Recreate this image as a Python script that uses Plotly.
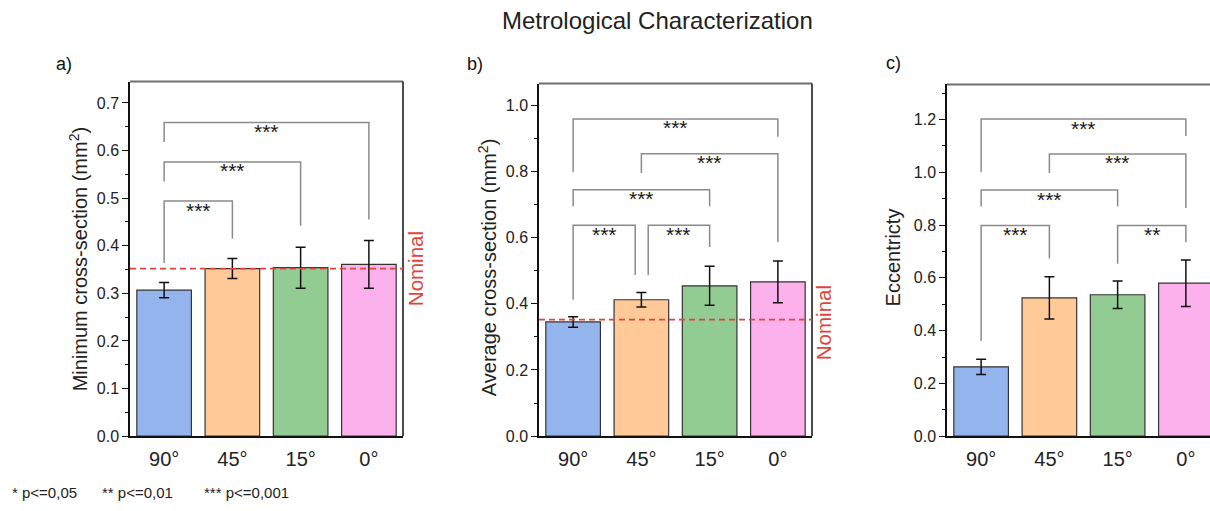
import plotly.graph_objects as go

# ---------------- data ----------------
categories = ["90°", "45°", "15°", "0°"]
bar_colors = ["#93B4EC", "#FFCA98", "#93CC93", "#FCB0EC"]

min_cs_mean = [0.307, 0.352, 0.354, 0.361]
min_cs_err = [0.016, 0.021, 0.043, 0.050]

avg_cs_mean = [0.345, 0.412, 0.454, 0.466]
avg_cs_err = [0.016, 0.022, 0.059, 0.063]

ecc_mean = [0.263, 0.524, 0.536, 0.580]
ecc_err = [0.029, 0.080, 0.052, 0.088]

nominal_value = 0.352

# brackets: (left index, right index, top, left leg end, right leg end, label, left offset, right offset)
brackets_a = [
    (0, 1, 0.494, 0.364, 0.415, "***", 0.0, 0.0),
    (0, 2, 0.576, 0.535, 0.442, "***", 0.0, 0.0),
    (0, 3, 0.659, 0.618, 0.455, "***", 0.0, 0.0),
]
brackets_b = [
    (0, 1, 0.637, 0.412, 0.487, "***", 0.0, -0.09),
    (1, 2, 0.637, 0.487, 0.571, "***", 0.10, 0.0),
    (0, 2, 0.744, 0.694, 0.694, "***", 0.0, 0.0),
    (1, 3, 0.853, 0.795, 0.586, "***", 0.0, 0.0),
    (0, 3, 0.958, 0.798, 0.904, "***", 0.0, 0.0),
]
brackets_c = [
    (0, 1, 0.799, 0.362, 0.673, "***", 0.0, 0.0),
    (2, 3, 0.799, 0.654, 0.735, "**", 0.0, 0.0),
    (0, 2, 0.933, 0.871, 0.871, "***", 0.0, 0.0),
    (1, 3, 1.070, 0.998, 0.865, "***", 0.0, 0.0),
    (0, 3, 1.202, 1.001, 1.138, "***", 0.0, 0.0),
]

FONT = "Liberation Sans, Arial, sans-serif"
W, H = 1210, 511

def px_x(p):
    return p / W

def px_y(p):
    return 1 - p / H

panels = [
    dict(mean=min_cs_mean, err=min_cs_err, br=brackets_a, xdom=[px_x(130), px_x(403)],
         ydom=[px_y(444), px_y(83)], yrange=[0, 0.745], dtick=0.1, minor=0.05,
         xrange=[-0.5, 3.5], nominal=True, right=True),
    dict(mean=avg_cs_mean, err=avg_cs_err, br=brackets_b, xdom=[px_x(539), px_x(812)],
         ydom=[px_y(444), px_y(85)], yrange=[0, 1.065], dtick=0.2, minor=0.1,
         xrange=[-0.5, 3.5], nominal=True, right=True),
    dict(mean=ecc_mean, err=ecc_err, br=brackets_c, xdom=[px_x(947), 1.0],
         ydom=[px_y(444), px_y(86)], yrange=[0, 1.333], dtick=0.2, minor=0.1,
         xrange=[-0.5, 3.5 - 10 / 68.25], nominal=False, right=False),
]

fig = go.Figure()
shapes = []
annotations = []
xs = list(range(len(categories)))

for k, p in enumerate(panels, start=1):
    xa = "x" if k == 1 else f"x{k}"
    ya = "y" if k == 1 else f"y{k}"
    fig.add_trace(go.Bar(
        x=xs, y=p["mean"], width=0.8, xaxis=xa, yaxis=ya,
        marker=dict(color=bar_colors, line=dict(color="#333333", width=1.2)),
        error_y=dict(type="data", array=p["err"], color="#111111", thickness=1.5, width=5),
        showlegend=False, hoverinfo="skip",
    ))
    for (i, j, top, yl, yr, lab, ol, orr) in p["br"]:
        xl, xr = i + ol, j + orr
        fig.add_trace(go.Scatter(
            x=[xl, xl, xr, xr], y=[yl, top, top, yr], mode="lines",
            line=dict(color="#8a8a8a", width=1.5), xaxis=xa, yaxis=ya,
            showlegend=False, hoverinfo="skip", cliponaxis=False,
        ))
        annotations.append(dict(
            x=(xl + xr) / 2, y=top, xref=xa, yref=ya, text=lab, showarrow=False,
            yanchor="middle", yshift=-9, font=dict(family=FONT, size=21, color="#1a1a1a"),
        ))
    axis_suffix = "" if k == 1 else str(k)
    fig.update_layout(**{
        f"xaxis{axis_suffix}": dict(
            domain=p["xdom"], range=p["xrange"], anchor=ya, tickmode="array",
            tickvals=xs, ticktext=categories, ticks="", showline=True,
            linecolor="#111111", linewidth=2, showgrid=False, zeroline=False,
            ticklabelstandoff=4,
            tickfont=dict(family=FONT, size=20, color="#222222"), fixedrange=True,
        ),
        f"yaxis{axis_suffix}": dict(
            domain=p["ydom"], range=p["yrange"], anchor=xa, dtick=p["dtick"], tick0=0,
            tickformat=".1f", ticks="outside", ticklen=6, tickwidth=1.3, tickcolor="#111111",
            minor=dict(dtick=p["minor"], tick0=0, ticks="outside", ticklen=3,
                       tickwidth=1.2, tickcolor="#111111"),
            showline=True, linecolor="#111111", linewidth=1.5, showgrid=False,
            zeroline=False, tickfont=dict(family=FONT, size=16, color="#222222"),
            fixedrange=True,
        ),
    })
    # frame: top and right
    shapes.append(dict(type="line", xref=f"{xa} domain", yref=f"{ya} domain",
                       x0=0, x1=1, y0=1, y1=1, line=dict(color="#6e6e6e", width=2)))
    if p["right"]:
        shapes.append(dict(type="line", xref=f"{xa} domain", yref=f"{ya} domain",
                           x0=1, x1=1, y0=0, y1=1, line=dict(color="#111111", width=1.5)))
    if p["nominal"]:
        shapes.append(dict(type="line", xref=f"{xa} domain", yref=ya,
                           x0=0, x1=1.0, y0=nominal_value, y1=nominal_value,
                           line=dict(color="#E0443C", width=1.6, dash="6px,4px")))

# Nominal labels
annotations.append(dict(x=px_x(415), y=px_y(274), xref="paper", yref="paper", text="Nominal",
                        textangle=-90, showarrow=False, xanchor="center", yanchor="middle",
                        font=dict(family=FONT, size=20.5, color="#E0443C")))
annotations.append(dict(x=px_x(823), y=px_y(329), xref="paper", yref="paper", text="Nominal",
                        textangle=-90, showarrow=False, xanchor="center", yanchor="middle",
                        font=dict(family=FONT, size=20.5, color="#E0443C")))

# y axis titles
ytitles = [
    ("Minimum cross-section (mm<sup>2</sup>)", 78, 264),
    ("Average cross-section (mm<sup>2</sup>)", 487, 272),
    ("Eccentricty", 893, 262),
]
for t, x, y in ytitles:
    annotations.append(dict(x=px_x(x), y=px_y(y), xref="paper", yref="paper", text=t,
                            textangle=-90, showarrow=False, xanchor="center", yanchor="middle",
                            font=dict(family=FONT, size=20, color="#222222")))

# panel labels
for t, x, y in [("a)", 64, 65), ("b)", 475, 65), ("c)", 893, 64)]:
    annotations.append(dict(x=px_x(x), y=px_y(y), xref="paper", yref="paper", text=t,
                            showarrow=False, xanchor="center", yanchor="middle",
                            font=dict(family=FONT, size=18, color="#111111")))

# title
annotations.append(dict(x=px_x(500), y=px_y(21), xref="paper", yref="paper",
                        text="Metrological Characterization", showarrow=False,
                        xanchor="left", yanchor="middle",
                        font=dict(family=FONT, size=24, color="#222222")))

# footnote
for t, x in [("* p&lt;=0,05", 10), ("** p&lt;=0,01", 100), ("*** p&lt;=0,001", 202)]:
    annotations.append(dict(x=px_x(x), y=px_y(501), xref="paper", yref="paper", text=t,
                            showarrow=False, xanchor="left", yanchor="middle",
                            font=dict(family=FONT, size=15, color="#222222")))

fig.update_layout(
    width=W, height=H, margin=dict(l=0, r=0, t=0, b=0),
    paper_bgcolor="white", plot_bgcolor="white",
    shapes=shapes, annotations=annotations, bargap=0.2,
    font=dict(family=FONT),
)

fig.write_html("out.html", config={"displayModeBar": False})
